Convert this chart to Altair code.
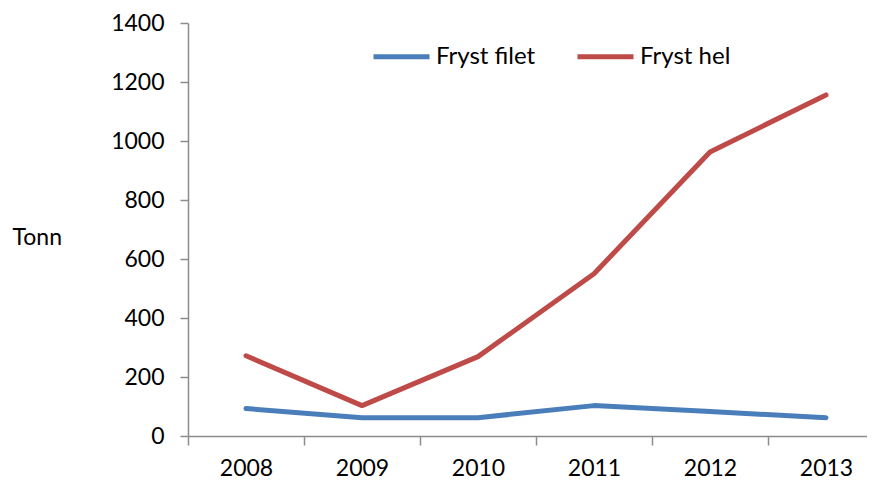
import altair as alt
import pandas as pd

years = [2008, 2009, 2010, 2011, 2012, 2013]
fryst_filet = [93, 62, 62, 103, 83, 62]
fryst_hel = [272, 103, 269, 550, 963, 1156]
series_names = ["Fryst filet", "Fryst hel"]
series_colors = ["#4A7EBB", "#BE4B48"]
y_ticks = [0, 200, 400, 600, 800, 1000, 1200, 1400]
x_tick_positions = [2007.5, 2008.5, 2009.5, 2010.5, 2011.5, 2012.5]

rows = []
for y, v in zip(years, fryst_filet):
    rows.append({"year": y, "value": v, "series": series_names[0]})
for y, v in zip(years, fryst_hel):
    rows.append({"year": y, "value": v, "series": series_names[1]})
df = pd.DataFrame(rows)

FONT = "Lato"
W = 679
band = 116.0

chart = alt.Chart(df).mark_line(strokeWidth=5, strokeCap="round", strokeJoin="round").encode(
    x=alt.X(
        "year:Q",
        scale=alt.Scale(domain=[2007.5, 2007.5 + W / band], nice=False, zero=False),
        axis=alt.Axis(
            values=x_tick_positions,
            labelExpr="toString(datum.value + 0.5)",
            labelOffset=band / 2,
            title=None,
            grid=False,
            domainColor="#8c8c8c",
            domainWidth=1.5,
            tickColor="#8c8c8c",
            tickWidth=1.5,
            tickSize=9,
            labelFont=FONT,
            labelFontSize=23,
            labelColor="#000000",
            labelPadding=12,
            labelFlush=False,
            labelOverlap=False,
        ),
    ),
    y=alt.Y(
        "value:Q",
        scale=alt.Scale(domain=[0, 1400], nice=False),
        axis=alt.Axis(
            values=y_ticks,
            format="d",
            title="Tonn",
            titleAngle=0,
            titleAlign="left",
            titleBaseline="middle",
            titleX=-176,
            titleY=214,
            titleFont=FONT,
            titleFontSize=23,
            titleFontWeight="normal",
            titleColor="#000000",
            grid=False,
            domainColor="#8c8c8c",
            domainWidth=1.5,
            tickColor="#8c8c8c",
            tickWidth=1.5,
            tickSize=8,
            labelFont=FONT,
            labelFontSize=23,
            labelColor="#000000",
            labelPadding=16,
        ),
    ),
    color=alt.Color(
        "series:N",
        scale=alt.Scale(domain=series_names, range=series_colors),
        legend=alt.Legend(
            title=None,
            orient="none",
            legendX=183,
            legendY=3,
            direction="horizontal",
            symbolType="stroke",
            symbolSize=3136,
            symbolStrokeWidth=5,
            labelFont=FONT,
            labelFontSize=24,
            labelColor="#000000",
            labelOffset=4,
            columnPadding=31,
        ),
    ),
).properties(
    width=W,
    height=413,
    autosize=alt.AutoSizeParams(type="none"),
    padding={"left": 180, "top": 15, "right": 0, "bottom": 45},
    background="white",
).configure_view(stroke=None)

chart.save("out.html", embed_options={"renderer": "svg", "actions": False})
